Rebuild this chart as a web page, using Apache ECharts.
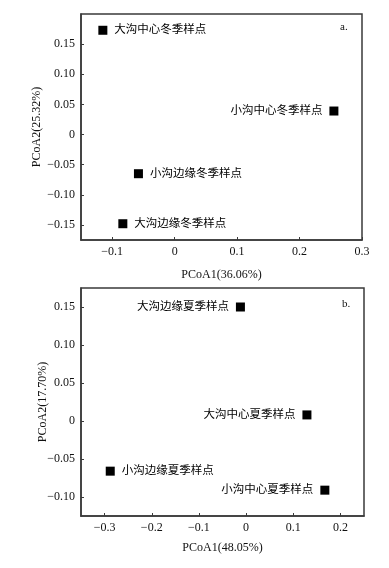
<!DOCTYPE html>
<html>
<head>
<meta charset="UTF-8">
<title>PCoA</title>
<script src="https://cdn.jsdelivr.net/npm/echarts@6/dist/echarts.min.js"></script>
<style>
html, body { margin: 0; padding: 0; background: #fff; }
#main { width: 389px; height: 568px; }
</style>
</head>
<body>
<div id="main"></div>
<script type="text/javascript">
// 冬季 (a)
var namesA = ['大沟中心冬季样点', '小沟中心冬季样点', '小沟边缘冬季样点', '大沟边缘冬季样点'];
var xA = [-0.115, 0.255, -0.058, -0.083];
var yA = [0.173, 0.039, -0.065, -0.148];
var sideA = ['right', 'left', 'right', 'right'];
var xTicksA = [-0.1, 0, 0.1, 0.2, 0.3];
var yTicksA = [-0.15, -0.1, -0.05, 0, 0.05, 0.1, 0.15];

// 夏季 (b)
var namesB = ['大沟边缘夏季样点', '大沟中心夏季样点', '小沟边缘夏季样点', '小沟中心夏季样点'];
var xB = [-0.012, 0.129, -0.288, 0.167];
var yB = [0.150, 0.008, -0.066, -0.091];
var sideB = ['left', 'left', 'right', 'left'];
var xTicksB = [-0.3, -0.2, -0.1, 0, 0.1, 0.2];
var yTicksB = [-0.1, -0.05, 0, 0.05, 0.1, 0.15];

var FONT = "'Liberation Serif', 'Noto Sans CJK SC', serif";
var TXT = '#111';
var LINE = '#3a3a3a';

function fmt(d) {
    return function (v) {
        if (Math.abs(v) < 1e-9) return '0';
        var s = Math.abs(v).toFixed(d);
        return v < 0 ? '\u2212' + s : s;
    };
}

function points(names, xs, ys, sides) {
    var out = [];
    for (var i = 0; i < names.length; i++) {
        out.push({
            value: [xs[i], ys[i]],
            name: names[i],
            label: { position: sides[i] }
        });
    }
    return out;
}

function xAxis(idx, min, max, ticks, title, gap) {
    return {
        type: 'value', gridIndex: idx, min: min, max: max,
        name: title, nameLocation: 'middle', nameGap: gap, nameMoveOverlap: false,
        nameTextStyle: { fontFamily: FONT, fontSize: 12, color: TXT },
        axisLine: { show: true, onZero: false, lineStyle: { color: LINE, width: 1.5 } },
        axisTick: { show: true, inside: true, length: 3, customValues: ticks, lineStyle: { color: LINE } },
        axisLabel: { customValues: ticks, formatter: fmt(1), margin: 6, fontFamily: FONT, fontSize: 12, color: TXT },
        splitLine: { show: false }
    };
}

function yAxis(idx, min, max, ticks, title, gap) {
    return {
        type: 'value', gridIndex: idx, min: min, max: max,
        name: title, nameLocation: 'middle', nameGap: gap, nameMoveOverlap: false,
        nameTextStyle: { fontFamily: FONT, fontSize: 12, color: TXT },
        axisLine: { show: true, onZero: false, lineStyle: { color: LINE, width: 1.5 } },
        axisTick: { show: true, inside: true, length: 3, customValues: ticks, lineStyle: { color: LINE } },
        axisLabel: { customValues: ticks, formatter: fmt(2), margin: 6, fontFamily: FONT, fontSize: 12, color: TXT },
        splitLine: { show: false }
    };
}

function scatter(idx, data) {
    return {
        type: 'scatter', xAxisIndex: idx, yAxisIndex: idx,
        symbol: 'rect', symbolSize: 9,
        itemStyle: { color: '#000', opacity: 1 },
        label: {
            show: true, distance: 7,
            formatter: '{b}',
            fontFamily: FONT, fontSize: 11.5, color: '#000'
        },
        data: data
    };
}

var myChart = echarts.init(document.getElementById('main'));

var option = {
    backgroundColor: '#fff',
    animation: false,
    title: [
        { text: 'a.', left: 335, top: 17, textStyle: { fontFamily: FONT, fontSize: 11, fontWeight: 'normal', color: TXT } },
        { text: 'b.', left: 337, top: 294, textStyle: { fontFamily: FONT, fontSize: 11, fontWeight: 'normal', color: TXT } }
    ],
    grid: [
        { left: 81, top: 14, width: 281, height: 226, show: true, borderColor: LINE, borderWidth: 1.5 },
        { left: 81, top: 288, width: 283, height: 228, show: true, borderColor: LINE, borderWidth: 1.5 }
    ],
    xAxis: [
        xAxis(0, -0.15, 0.3, xTicksA, 'PCoA1(36.06%)', 29),
        xAxis(1, -0.35, 0.25, xTicksB, 'PCoA1(48.05%)', 26)
    ],
    yAxis: [
        yAxis(0, -0.175, 0.2, yTicksA, 'PCoA2(25.32%)', 38),
        yAxis(1, -0.125, 0.175, yTicksB, 'PCoA2(17.70%)', 32)
    ],
    series: [
        scatter(0, points(namesA, xA, yA, sideA)),
        scatter(1, points(namesB, xB, yB, sideB))
    ]
};

myChart.setOption(option);
</script>
</body>
</html>
